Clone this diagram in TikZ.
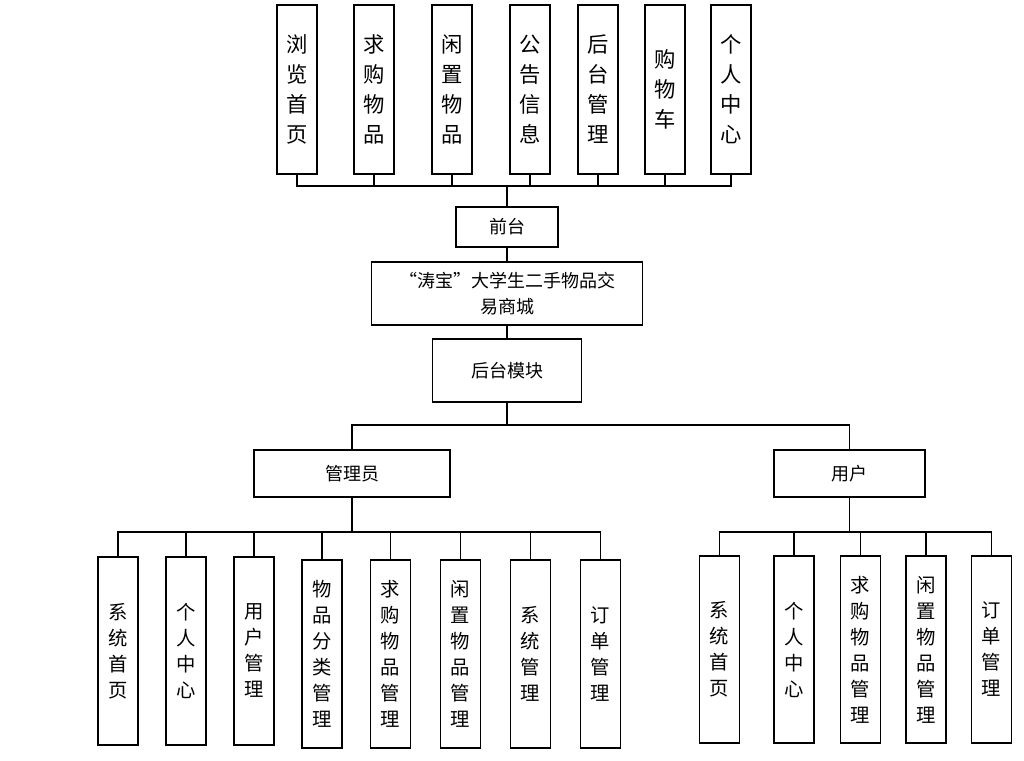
\documentclass[tikz,border=0pt]{standalone}
\usepackage{fontspec}
\newfontfamily\cjk{Noto Sans CJK SC}
\usetikzlibrary{positioning}
\tikzset{
    topbox/.style={
        rectangle, draw, fill=white,
        minimum width=30pt,
        minimum height=126.75pt,
        text width=22pt, align=center,
        font=\cjk\fontsize{16}{22.5}\selectfont
    },
    leafbox/.style={
        rectangle, draw, fill=white,
        minimum width=30pt,
        minimum height=141pt,
        text width=20pt, align=center,
        font=\cjk\fontsize{14.5}{19.5}\selectfont
    },
    midbox/.style={
        rectangle, draw, fill=white,
        align=center,
        font=\cjk\fontsize{13.5}{19.5}\selectfont
    }
}

\begin{document}
\begin{tikzpicture}[
        x=0.75pt, y=-0.75pt,
        line width=1.1pt,
        every node/.style={inner sep=0pt}
    ]
    \useasboundingbox (0,0) rectangle (1024,760);
    % front end
    \node[topbox] (liulan) at (297,89.5) {浏\\览\\首\\页};
    \node[topbox] (qiugou) at (374,89.5) {求\\购\\物\\品};
    \node[topbox] (xianzhi) at (452,89.5) {闲\\置\\物\\品};
    \node[topbox] (gonggao) at (530,89.5) {公\\告\\信\\息};
    \node[topbox] (houtai) at (598,89.5) {后\\台\\管\\理};
    \node[topbox] (gouwuche) at (665,89.5) {购\\物\\车};
    \node[topbox] (geren) at (731,89.5) {个\\人\\中\\心};
    \node[midbox, minimum width=76.5pt, minimum height=30pt] (qiantai) at (507,227) {前台};
    \node[midbox, minimum width=203.25pt, minimum height=47.25pt] (shangcheng) at (507,293.5)
        {“涛宝”大学生二手物品交\\易商城};
    \node[midbox, minimum width=111.75pt, minimum height=47.25pt] (houtaimk) at (507,370.5) {后台模块};
    % back end
    \node[midbox, minimum width=147pt, minimum height=35.25pt] (guanli) at (352,473.5) {管理员};
    \node[midbox, minimum width=113.25pt, minimum height=35.25pt] (yonghu) at (849.5,473.5) {用户};
    \node[leafbox] (a1) at (118,651) {系\\统\\首\\页};
    \node[leafbox] (a2) at (186,651) {个\\人\\中\\心};
    \node[leafbox] (a3) at (254,651) {用\\户\\管\\理};
    \node[leafbox] (a4) at (322,654) {物\\品\\分\\类\\管\\理};
    \node[leafbox] (a5) at (390.5,654) {求\\购\\物\\品\\管\\理};
    \node[leafbox] (a6) at (460.5,654) {闲\\置\\物\\品\\管\\理};
    \node[leafbox] (a7) at (530.5,654) {系\\统\\管\\理};
    \node[leafbox] (a8) at (600.5,654) {订\\单\\管\\理};
    \node[leafbox, minimum height=140pt] (u1) at (719.5,649.5) {系\\统\\首\\页};
    \node[leafbox, minimum height=140pt] (u2) at (794,649.5) {个\\人\\中\\心};
    \node[leafbox, minimum height=140pt] (u3) at (860.5,649.5) {求\\购\\物\\品\\管\\理};
    \node[leafbox, minimum height=140pt] (u4) at (926,649.5) {闲\\置\\物\\品\\管\\理};
    \node[leafbox, minimum height=140pt] (u5) at (991.5,649.5) {订\\单\\管\\理};

    \coordinate (topbus) at (507,186);
    \coordinate (midbus) at (507,425);
    \coordinate (adminbus) at (352,532);
    \coordinate (userbus) at (849.5,532);

    \draw (liulan.south) -- (liulan.south |- topbus) -- (geren.south |- topbus) -- (geren.south);
    \draw (qiugou) -- (qiugou.south |- topbus);
    \draw (xianzhi) -- (xianzhi.south |- topbus);
    \draw (gonggao) -- (gonggao.south |- topbus);
    \draw (houtai) -- (houtai.south |- topbus);
    \draw (gouwuche) -- (gouwuche.south |- topbus);
    \draw (topbus) -- (qiantai);
    \draw (qiantai) -- (shangcheng);
    \draw (shangcheng) -- (houtaimk);
    \draw (houtaimk) -- (midbus);
    \draw (guanli.north) -- (guanli.north |- midbus) -- (yonghu.north |- midbus) -- (yonghu.north);

    \draw (guanli) -- (adminbus);
    \draw (a1.north) -- (a1.north |- adminbus) -- (a8.north |- adminbus) -- (a8.north);
    \draw (a2) -- (a2.north |- adminbus);
    \draw (a3) -- (a3.north |- adminbus);
    \draw (a4) -- (a4.north |- adminbus);
    \draw (a5) -- (a5.north |- adminbus);
    \draw (a6) -- (a6.north |- adminbus);
    \draw (a7) -- (a7.north |- adminbus);

    \draw (yonghu) -- (userbus);
    \draw (u1.north) -- (u1.north |- userbus) -- (u5.north |- userbus) -- (u5.north);
    \draw (u2) -- (u2.north |- userbus);
    \draw (u3) -- (u3.north |- userbus);
    \draw (u4) -- (u4.north |- userbus);
\end{tikzpicture}
\end{document}
